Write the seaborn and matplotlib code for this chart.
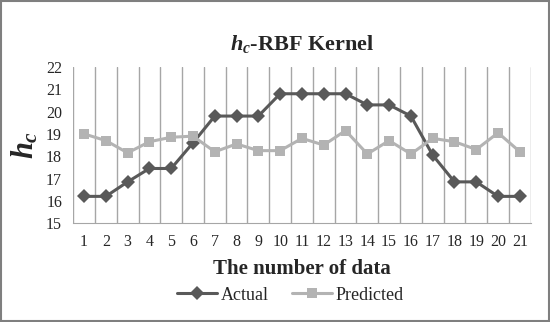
"""
h_c - RBF kernel: actual vs predicted
"""

import numpy as np
import pandas as pd
import matplotlib
matplotlib.use("Agg")
import matplotlib.pyplot as plt
import seaborn as sns

# Data
data_index = list(range(1, 22))
actual = [16.2, 16.2, 16.85, 17.45, 17.45, 18.6, 19.8, 19.8, 19.8, 20.8, 20.8,
          20.8, 20.8, 20.3, 20.3, 19.8, 18.05, 16.85, 16.85, 16.2, 16.2]
predicted = [19.0, 18.7, 18.15, 18.65, 18.85, 18.9, 18.2, 18.55, 18.25, 18.25, 18.8,
             18.5, 19.15, 18.1, 18.7, 18.1, 18.8, 18.65, 18.3, 19.05, 18.2]
y_ticks = [15, 16, 17, 18, 19, 20, 21, 22]

df = pd.DataFrame({
    "n": data_index * 2,
    "value": actual + predicted,
    "series": ["Actual"] * len(actual) + ["Predicted"] * len(predicted),
})

sns.set_style("white")
plt.rcParams["font.family"] = ["Liberation Serif", "DejaVu Serif"]
plt.rcParams["mathtext.fontset"] = "custom"
plt.rcParams["mathtext.it"] = "Liberation Serif:italic:bold"
plt.rcParams["mathtext.rm"] = "Liberation Serif:bold"

fig = plt.figure(figsize=(5.5, 3.22), dpi=100)
ax = fig.add_axes([0.133, 0.307, 0.832, 0.485])

colors = {"Actual": "#595959", "Predicted": "#b3b3b3"}
markers = {"Actual": "D", "Predicted": "s"}
sns.lineplot(data=df, x="n", y="value", hue="series", style="series",
             palette=colors, markers=markers, dashes=False, linewidth=2.2,
             markersize=7, markeredgewidth=0, ax=ax)

# category-style vertical gridlines between points
for g in np.arange(0.5, 22.0, 1.0):
    ax.axvline(g, color="#a6a6a6", linewidth=1.0, zorder=0)

ax.set_xlim(0.5, 21.5)
ax.set_ylim(15, 22)
ax.set_xticks(data_index)
ax.set_yticks(y_ticks)
ax.tick_params(axis="both", length=0, labelsize=11.5, pad=8)
for s in ["top", "right", "left"]:
    ax.spines[s].set_visible(False)
ax.spines["bottom"].set_color("#a6a6a6")

ax.set_xlabel("The number of data", fontsize=15, fontweight="bold", labelpad=6)
ax.set_ylabel(r"$h_c$", fontsize=22, labelpad=4)
ax.set_title(r"$h_c$-RBF Kernel", fontsize=16, fontweight="bold", pad=12)

handles, labels = ax.get_legend_handles_labels()
ax.legend(handles, labels, loc="upper center", bbox_to_anchor=(0.475, -0.36),
          ncol=2, frameon=False, fontsize=13, handlelength=2.2, columnspacing=1.3,
          handletextpad=0.2, borderaxespad=0)

# outer frame around the figure
fig.patches.append(plt.Rectangle((0.002, 0.003), 0.996, 0.994, transform=fig.transFigure,
                                 fill=False, edgecolor="#7f7f7f", linewidth=1.5))

plt.savefig("out.png", dpi=100)
plt.close()
